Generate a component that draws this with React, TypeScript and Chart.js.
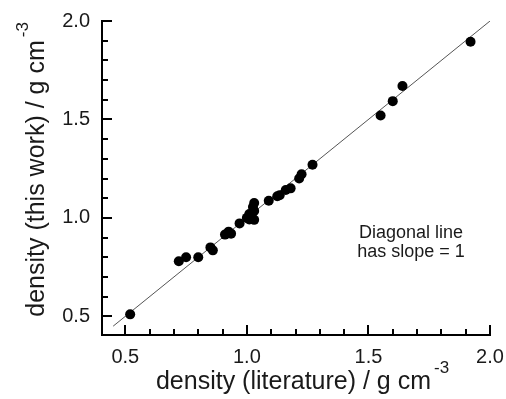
import React, { useEffect, useRef } from "react";
import { Chart, registerables } from "chart.js";

Chart.register(...registerables);

// density (literature) / g cm^-3
const literatureDensity = [
  0.52, 0.72, 0.75, 0.8, 0.85, 0.86, 0.91, 0.925, 0.935, 0.97,
  1.0, 1.01, 1.01, 1.02, 1.03, 1.03, 1.025, 1.03, 1.09, 1.125,
  1.135, 1.16, 1.18, 1.215, 1.225, 1.27, 1.55, 1.6, 1.64, 1.92,
];
// density (this work) / g cm^-3
const thisWorkDensity = [
  0.51, 0.78, 0.8, 0.8, 0.85, 0.835, 0.915, 0.93, 0.92, 0.972,
  1.0, 1.02, 0.992, 1.005, 0.99, 1.035, 1.055, 1.076, 1.087, 1.11,
  1.115, 1.142, 1.15, 1.2, 1.222, 1.27, 1.52, 1.593, 1.67, 1.895,
];
const diagonalX = [0.45, 2.0];
const diagonalY = [0.45, 2.0];

const axisMin = 0.4;
const axisMax = 2.0;
const majorTicks = [0.5, 1.0, 1.5, 2.0];
const minorTicks = [0.6, 0.7, 0.8, 0.9, 1.1, 1.2, 1.3, 1.4, 1.6, 1.7, 1.8, 1.9];
const xTickLabels = ["0.5", "1.0", "1.5", "2.0"];
const yTickLabels = ["0.5", "1.0", "1.5", "2.0"];

const xTitle = "density (literature) / g cm";
const yTitle = "density (this work) / g cm";
const titleSup = "-3";
const noteLines = ["Diagonal line", "has slope = 1"];
const noteAt = { x: 1.675, y: 0.9 };

const FONT = "'Liberation Sans', Arial, sans-serif";
const INK = "#000000";

const ticksPlugin = {
  id: "inwardTicks",
  afterDraw(chart: any) {
    const ctx = chart.ctx as CanvasRenderingContext2D;
    const xs = chart.scales.x;
    const ys = chart.scales.y;
    const area = chart.chartArea;
    ctx.save();
    ctx.fillStyle = INK;
    ctx.fillRect(area.left, area.top - 1, 2, area.bottom - area.top + 1);
    ctx.fillRect(area.left, area.bottom - 2, area.right - area.left + 1, 2);
    const all = majorTicks.concat(minorTicks);
    all.forEach((v) => {
      const len = majorTicks.indexOf(v) >= 0 ? 11 : 7;
      const px = Math.round(xs.getPixelForValue(v));
      const py = Math.round(ys.getPixelForValue(v));
      ctx.fillRect(px - 1, area.bottom - len, 2, len);
      ctx.fillRect(area.left, py - 1, len, 2);
    });
    ctx.restore();
  },
};

const textPlugin = {
  id: "axisTexts",
  afterDraw(chart: any) {
    const ctx = chart.ctx as CanvasRenderingContext2D;
    const xs = chart.scales.x;
    const ys = chart.scales.y;
    const area = chart.chartArea;
    ctx.save();
    ctx.fillStyle = "#1a1a1a";
    ctx.textBaseline = "alphabetic";
    ctx.textAlign = "left";
    ctx.font = `25px ${FONT}`;
    const xw = ctx.measureText(xTitle).width;
    const xStart = (area.left + area.right) / 2 - xw / 2 - 2;
    ctx.fillText(xTitle, xStart, 389);
    ctx.font = `17px ${FONT}`;
    ctx.fillText(titleSup, xStart + xw + 3, 373);

    ctx.save();
    ctx.translate(44, (area.top + area.bottom) / 2);
    ctx.rotate(-Math.PI / 2);
    ctx.font = `25px ${FONT}`;
    const yw = ctx.measureText(yTitle).width;
    ctx.fillText(yTitle, -yw / 2, 0);
    ctx.font = `17px ${FONT}`;
    ctx.fillText(titleSup, yw / 2 + 3, -16);
    ctx.restore();

    ctx.font = `18px ${FONT}`;
    ctx.textAlign = "center";
    const nx = xs.getPixelForValue(noteAt.x);
    const ny = ys.getPixelForValue(noteAt.y);
    noteLines.forEach((t, i) => ctx.fillText(t, nx, ny + i * 19));
    ctx.restore();
  },
};

export default function App() {
  const canvasRef = useRef<HTMLCanvasElement | null>(null);
  useEffect(() => {
    if (!canvasRef.current) return;
    const points = literatureDensity.map((x, i) => ({ x, y: thisWorkDensity[i] }));
    const diag = diagonalX.map((x, i) => ({ x, y: diagonalY[i] }));
    const chart = new Chart(canvasRef.current, {
      type: "scatter",
      data: {
        datasets: [
          {
            label: "density",
            data: points,
            backgroundColor: "#000000",
            borderWidth: 0,
            pointRadius: 5,
            pointHoverRadius: 5,
          },
          {
            type: "line",
            label: "slope 1",
            data: diag,
            borderColor: "#555555",
            borderWidth: 1,
            pointRadius: 0,
            showLine: true,
            fill: false,
          } as any,
        ],
      },
      options: {
        responsive: false,
        animation: false,
        layout: { padding: { left: 0, top: 21, right: 16, bottom: 0 } },
        plugins: { legend: { display: false }, tooltip: { enabled: false } },
        scales: {
          x: {
            type: "linear", min: axisMin, max: axisMax,
            grid: { display: false, drawTicks: false }, border: { display: false },
            afterBuildTicks: (s: any) => { s.ticks = majorTicks.map((v) => ({ value: v })); },
            afterFit: (s: any) => {
              s.height = 63;
              s.paddingLeft = 0;
              s.paddingRight = 0;
            },
            ticks: {
              padding: 9,
              color: "#1a1a1a",
              font: { family: FONT, size: 20 },
              maxRotation: 0,
              callback: (v: any) => xTickLabels[majorTicks.indexOf(Number(v))] ?? "",
            },
          },
          y: {
            type: "linear", min: axisMin, max: axisMax,
            grid: { display: false, drawTicks: false }, border: { display: false },
            afterBuildTicks: (s: any) => { s.ticks = majorTicks.map((v) => ({ value: v })); },
            afterFit: (s: any) => {
              s.width = 101;
              s.paddingTop = 0;
              s.paddingBottom = 0;
            },
            ticks: {
              padding: 11,
              color: "#1a1a1a",
              font: { family: FONT, size: 20 },
              callback: (v: any) => yTickLabels[majorTicks.indexOf(Number(v))] ?? "",
            },
          },
        },
      },
      plugins: [ticksPlugin, textPlugin],
    });
    return () => chart.destroy();
  }, []);
  return (
    <div style={{ position: "absolute", left: 0, top: 0, width: 506, height: 399, background: "#ffffff" }}>
      <canvas ref={canvasRef} width={506} height={399} style={{ display: "block" }} />
    </div>
  );
}
